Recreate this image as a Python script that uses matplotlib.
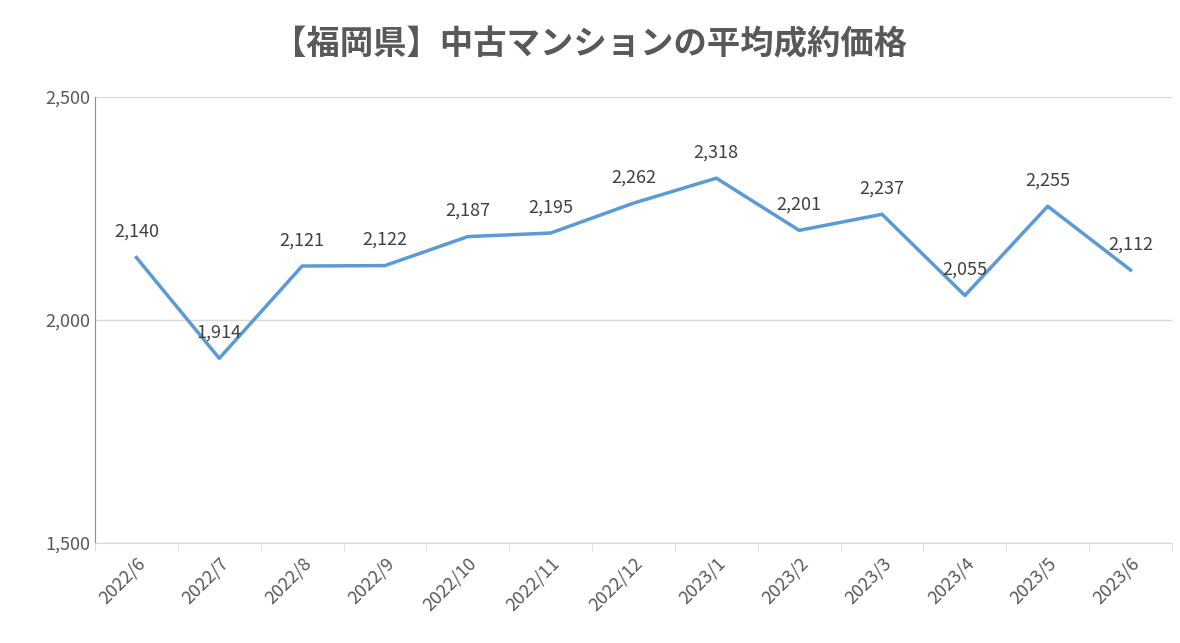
import matplotlib
matplotlib.use("Agg")
import matplotlib.pyplot as plt

categories = ["2022/6","2022/7","2022/8","2022/9","2022/10","2022/11","2022/12",
              "2023/1","2023/2","2023/3","2023/4","2023/5","2023/6"]
values = [2140,1914,2121,2122,2187,2195,2262,2318,2201,2237,2055,2255,2112]
yticks = [1500,2000,2500]

plt.rcParams["font.family"] = ["Noto Sans CJK JP"]
fig = plt.figure(figsize=(11.8,6.43), dpi=100)
ax = fig.add_axes([95/1180, 1-543/643, 1077/1180, 446/643])
x = list(range(len(categories)))
ax.plot(x, values, color="#5B9BD5", lw=2.5)
for xi, v in zip(x, values):
    ax.annotate(f"{v:,}", (xi, v), xytext=(0, 12), textcoords="offset points",
                ha="center", va="bottom", fontsize=13, color="#404040")
ax.set_xlim(-0.5, len(categories)-0.5)
ax.set_ylim(1500, 2500)
ax.set_yticks(yticks)
ax.set_yticklabels([f"{t:,}" for t in yticks], fontsize=13, color="#595959")
ax.yaxis.grid(True, color="#D9D9D9", lw=1)
ax.set_axisbelow(True)
ax.set_xticks(x)
ax.set_xticklabels(categories, rotation=45, ha="right", rotation_mode="anchor", fontsize=13, color="#595959")
ax.tick_params(axis="x", length=0, pad=8)
ax.set_xticks([i+0.5 for i in range(-1, len(categories))], minor=True)
ax.tick_params(axis="x", which="minor", length=6, color="#D9D9D9")
ax.tick_params(axis="y", length=0)
for s in ["top","right"]:
    ax.spines[s].set_visible(False)
ax.spines["bottom"].set_color("#D9D9D9")
ax.spines["left"].set_color("#5B9BD5")
fig.text(0.5, 1-45/643, "【福岡県】中古マンションの平均成約価格", ha="center", va="center",
         fontsize=24, fontweight="bold", color="#595959")
fig.savefig("out.png")
